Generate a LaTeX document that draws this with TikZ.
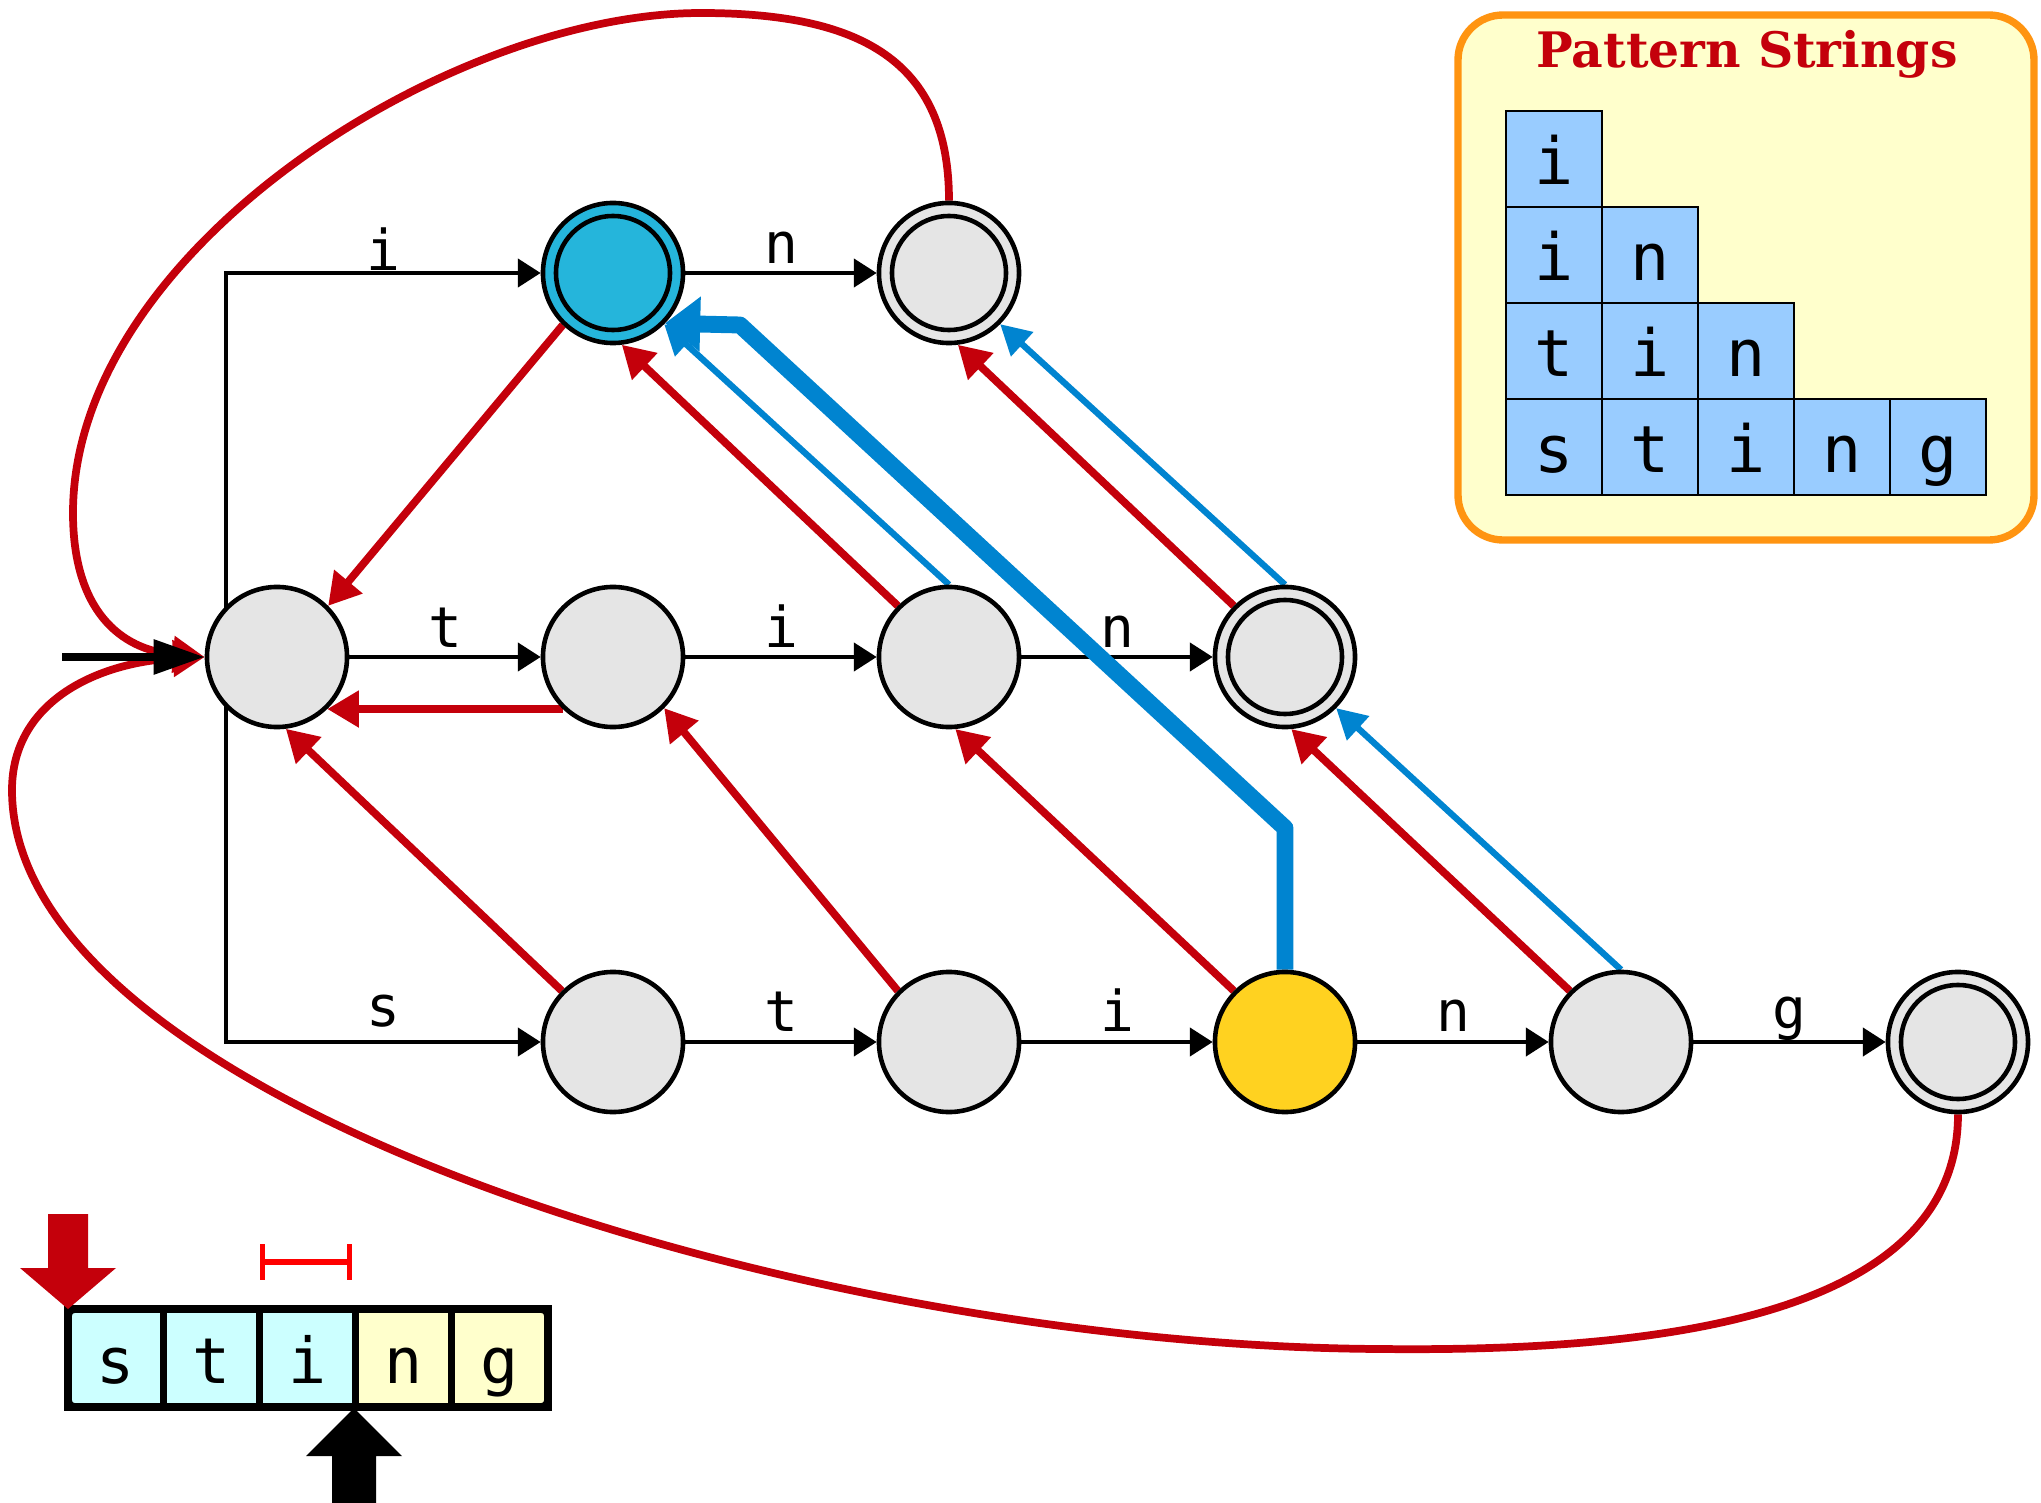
\documentclass[tikz,border=0pt]{standalone}
\usepackage{fontspec}
\newfontfamily\monof{DejaVu Sans Mono}
\newfontfamily\titlef{DejaVu Serif}
\usetikzlibrary{arrows.meta,backgrounds}
\definecolor{redl}{RGB}{196,0,11}
\definecolor{bluel}{RGB}{0,132,208}
\definecolor{nodegray}{RGB}{229,229,229}
\definecolor{nodeblue}{RGB}{37,181,219}
\definecolor{nodeyellow}{RGB}{255,210,32}
\definecolor{boxorange}{RGB}{255,148,17}
\definecolor{paleyellow}{RGB}{255,255,204}
\definecolor{cellblue}{RGB}{153,204,255}
\definecolor{palecyan}{RGB}{204,255,255}
\definecolor{brightred}{RGB}{255,0,0}
\begin{document}
\begin{tikzpicture}[x=0.01cm, y=-0.01cm,
  state/.style={circle, draw, line width=1.3pt, fill=nodegray, minimum size=1.4cm, inner sep=0pt},
  accept/.style={path picture={\draw[line width=1.3pt] (path picture bounding box.center) circle[radius=0.57cm];}},
  trans/.style={line width=1.15pt, -{Triangle[length=6.5pt,width=8pt]}},
  lbl/.style={midway, anchor=base, font=\monof\fontsize{16}{16}\selectfont, inner sep=0pt, yshift=#1},
  fail/.style={draw=redl, line width=2.2pt, -{Triangle[length=9pt,width=10pt]}},
  outl/.style={draw=bluel, line width=1.8pt, -{Triangle[length=8.5pt,width=9pt]}},
  outthick/.style={draw=bluel, line width=4.8pt, line join=round, -{Triangle[length=10pt,width=15pt]}},
  pcell/.style={draw, line width=0.5pt, fill=cellblue, minimum width=0.96cm, minimum height=0.96cm, inner sep=0pt, text height=0.6cm, text depth=0.1cm, font=\monof\fontsize{18.5}{18.5}\selectfont},
  scell/.style={draw, line width=2pt, minimum width=0.96cm, minimum height=0.98cm, inner sep=0pt, text height=0.6cm, text depth=0.1cm, font=\monof\fontsize{18}{18}\selectfont},
]
\useasboundingbox (0,0) rectangle (2041,1503);

% ---------- automaton nodes ----------
\node[state] (root) at (277,657) {};
\node[state, fill=nodeblue, accept] (nI) at (613,273) {};
\node[state, accept] (nIN) at (949,273) {};
\node[state] (nT) at (613,657) {};
\node[state] (nTI) at (949,657) {};
\node[state, accept] (nTIN) at (1285,657) {};
\node[state] (nS) at (613,1042) {};
\node[state] (nST) at (949,1042) {};
\node[state, fill=nodeyellow] (nSTI) at (1285,1042) {};
\node[state] (nSTIN) at (1621,1042) {};
\node[state, accept] (nSTING) at (1958,1042) {};

\coordinate (btop) at (226,273);
\coordinate (bbot) at (226,1042);
\coordinate (start) at (62,657);
\coordinate (bend1) at (1285,828);
\coordinate (bend2) at (740,325);

\begin{scope}[on background layer]
  % goto transitions
  \draw[line width=1.15pt, line cap=rect] (btop) -- (bbot);
  \draw[trans] (btop) -- node[lbl=0.6pt]{i} (nI);
  \draw[trans] (bbot) -- node[lbl=4.5pt]{s} (nS);
  \draw[trans] (nI) -- node[lbl=2.8pt]{n} (nIN);
  \draw[trans] (root) -- node[lbl=2.6pt]{t} (nT);
  \draw[trans] (nT) -- node[lbl=2.6pt]{i} (nTI);
  \draw[trans] (nTI) -- node[lbl=2.6pt]{n} (nTIN);
  \draw[trans] (nS) -- node[lbl=3.1pt]{t} (nST);
  \draw[trans] (nST) -- node[lbl=3.1pt]{i} (nSTI);
  \draw[trans] (nSTI) -- node[lbl=3.1pt]{n} (nSTIN);
  \draw[trans] (nSTIN) -- node[lbl=3.7pt]{g} (nSTING);

  % failure links
  \draw[fail] (nI.226) -- (root.45);
  \draw[fail] (nT.226) -- (root.-46);
  \draw[fail] (nTI.135) -- (nI.-83);
  \draw[fail] (nTIN.135) -- (nIN.-83);
  \draw[fail] (nS.135) -- (root.-83);
  \draw[fail] (nST.135) -- (nT.-45);
  \draw[fail] (nSTI.135) -- (nTI.-85);
  \draw[fail] (nSTIN.135) -- (nTIN.-85);
  \draw[fail] (nIN.north) .. controls (949,60) and (860,13) .. (701,13)
        .. controls (450,13) and (73,250) .. (73,513)
        .. controls (73,610) and (120,650) .. (root.west);
  \draw[fail] (nSTING.south) .. controls (1958,1320) and (1650,1352) .. (1380,1349)
        .. controls (800,1346) and (12,1100) .. (12,790)
        .. controls (12,700) and (100,662) .. (root.west);

  % dictionary (output) links
  \draw[outl] (nTI.90) -- (nI.-45);
  \draw[outl] (nTIN.90) -- (nIN.-45);
  \draw[outl] (nSTIN.90) -- (nTIN.-45);
  \draw[outthick] (nSTI.north) -- (bend1) -- (bend2) -- (nI.-44);

  % start arrow
  \draw[line width=2.2pt, -{Triangle[length=14.5pt,width=9.5pt]}] (start) -- (root);
\end{scope}

% ---------- pattern strings box ----------
\draw[draw=boxorange, fill=paleyellow, line width=2.1pt, rounded corners=0.45cm] (1458,15) rectangle (2034,540);
\node[font=\titlef\bfseries\fontsize{13.9}{13.9}\selectfont, text=redl, anchor=base, inner sep=0pt] (title) at (1747,68) {Pattern Strings};

\node[pcell] (p00) at (1554,159) {i};
\node[pcell] (p10) at (1554,255) {i};
\node[pcell] (p11) at (1650,255) {n};
\node[pcell] (p20) at (1554,351) {t};
\node[pcell] (p21) at (1650,351) {i};
\node[pcell] (p22) at (1746,351) {n};
\node[pcell] (p30) at (1554,447) {s};
\node[pcell] (p31) at (1650,447) {t};
\node[pcell] (p32) at (1746,447) {i};
\node[pcell] (p33) at (1842,447) {n};
\node[pcell] (p34) at (1938,447) {g};

% ---------- input string ----------
\node[scell, fill=palecyan] (s1) at (116,1358) {s};
\node[scell, fill=palecyan] (s2) at (212,1358) {t};
\node[scell, fill=palecyan] (s3) at (308,1358) {i};
\node[scell, fill=paleyellow] (s4) at (404,1358) {n};
\node[scell, fill=paleyellow] (s5) at (500,1358) {g};
\draw[line width=2.2pt, rounded corners=2pt] (68,1309) rectangle (548,1407);

% pointer arrows
\fill[redl] (48,1214) -- (88,1214) -- (88,1268) -- (116,1268) -- (68,1309) -- (20,1268) -- (48,1268) -- cycle;
\fill[black] (332,1503) -- (332,1456) -- (306,1456) -- (354,1408) -- (402,1456) -- (376,1456) -- (376,1503) -- cycle;

% matched interval
\coordinate (ivl) at (260,1262);
\coordinate (ivr) at (352,1262);
\draw[brightred, line width=1.5pt, {Bar[width=10pt]}-{Bar[width=10pt]}] (ivl) -- (ivr);
\end{tikzpicture}
\end{document}
